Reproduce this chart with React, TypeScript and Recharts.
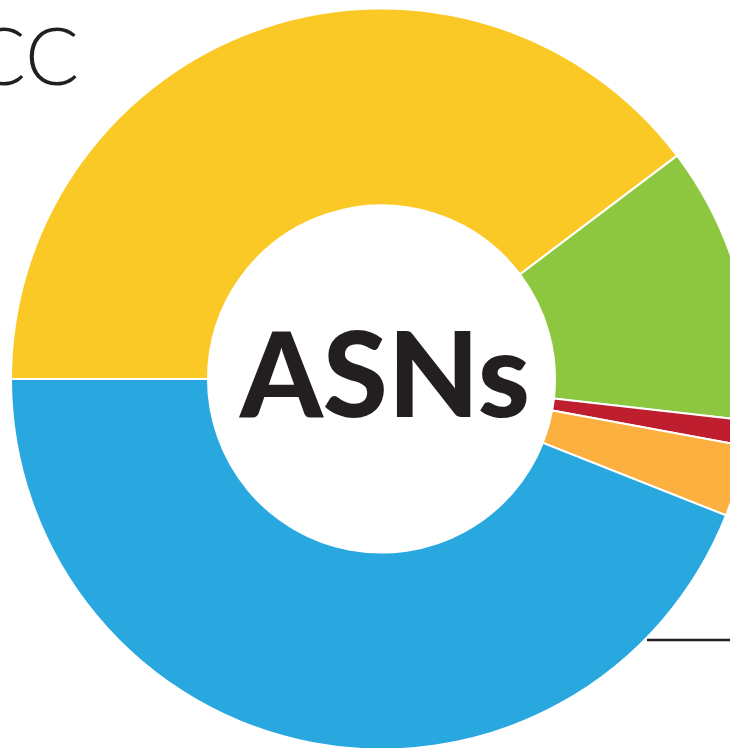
import { PieChart, Pie, Cell, Label, Customized } from 'recharts';

const registries = ['RIPE NCC', 'APNIC', 'AFRINIC', 'LACNIC', 'ARIN'];
const shares = [39.7, 12.1, 1.1, 3.1, 44.0];
const colors = ['#fbc926', '#8dc63f', '#be1e2d', '#fbb040', '#29a8e0'];

const data = registries.map((name, i) => ({ name, value: shares[i] }));

const CX = 381.5;
const CY = 379;

function Extras() {
  return (
    <g>
      <text
        x={79}
        y={85}
        textAnchor="end"
        fill="#231f20"
        style={{ fontFamily: 'Lato', fontWeight: 300, fontSize: 80 }}
      >
        RIPE NCC
      </text>
      <line x1={647} y1={640} x2={730} y2={640} stroke="#231f20" strokeWidth={2.5} />
    </g>
  );
}

export default function App() {
  return (
    <div style={{ position: 'absolute', left: 0, top: 0, width: 730, height: 748, background: '#fff' }}>
      <PieChart width={730} height={748} margin={{ top: 0, right: 0, bottom: 0, left: 0 }}>
        <Pie
          data={data}
          dataKey="value"
          nameKey="name"
          cx={CX}
          cy={CY}
          innerRadius={173.5}
          outerRadius={370.5}
          startAngle={180}
          endAngle={-180}
          stroke="#ffffff"
          strokeWidth={2}
          isAnimationActive={false}
        >
          {data.map((entry, index) => (
            <Cell key={`cell-${index}`} fill={colors[index]} />
          ))}
          <Label
            position="center"
            content={() => (
              <text
                x={385}
                y={417}
                textAnchor="middle"
                fill="#231f20"
                style={{ fontFamily: 'Lato', fontWeight: 900, fontSize: 118 }}
              >
                ASNs
              </text>
            )}
          />
        </Pie>
        <Customized component={Extras} />
      </PieChart>
    </div>
  );
}
